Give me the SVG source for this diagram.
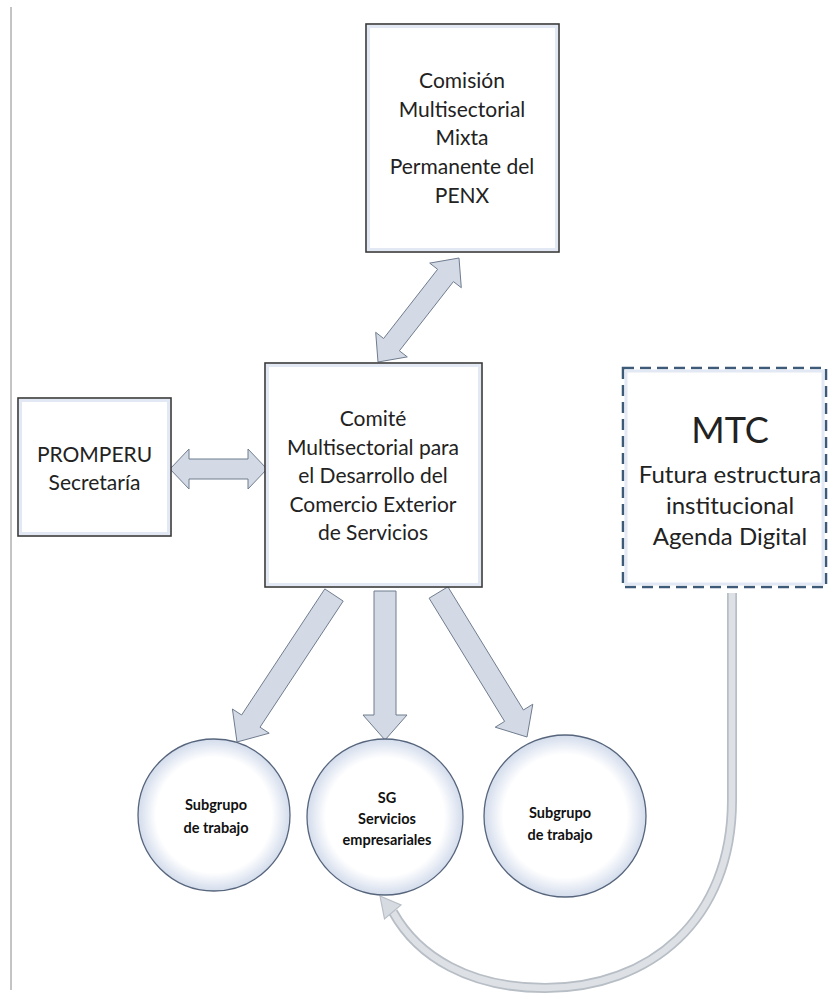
<svg xmlns="http://www.w3.org/2000/svg" width="832" height="1003" viewBox="0 0 832 1003">
<defs>
<radialGradient id="cg" cx="50%" cy="50%" r="50%">
<stop offset="0.76" stop-color="#ffffff"/>
<stop offset="1" stop-color="#d3dcec"/>
</radialGradient>
<style>
.box{fill:#ffffff;stroke:#3a3a3a;stroke-width:1.6}
.glow{fill:none;stroke:#e2e9f4;stroke-width:3}
.circ{fill:url(#cg);stroke:#56657c;stroke-width:1.3}
.arr{fill:#d3dae5;stroke:#6f7c8f;stroke-width:1}
.t{font-family:Lato,"Open Sans",sans-serif;font-size:21px;fill:#222;text-anchor:middle}
.m{font-family:Lato,"Open Sans",sans-serif;font-size:24px;fill:#222;text-anchor:middle}
.c{font-family:Lato,"Open Sans",sans-serif;font-size:14.5px;font-weight:bold;fill:#111;text-anchor:middle}
</style>
</defs>
<rect width="832" height="1003" fill="#ffffff"/>
<line x1="11" y1="7" x2="11" y2="990" stroke="#b0b0b0" stroke-width="1.5"/>

<g id="connectors">
<polygon class="arr" points="459,258 461.3,287.7 453.4,281.6 399.4,350.8 407.3,356.9 378,362 375.7,332.3 383.6,338.5 437.6,269.3 429.7,263.1"/>
<polygon class="arr" points="170,469 189,449 189,459 248,459 248,449 267,469 248,489 248,479 189,479 189,489"/>
<polygon class="arr" points="343.2,601.1 260,727.2 269.2,733.2 237,742 232.4,709 241.6,715 324.8,588.9"/>
<polygon class="arr" points="374,591 396,591 396,715 407,715 385,740 363,715 374,715"/>
<polygon class="arr" points="429.1,598.2 504.6,721.4 495.2,727.2 527,737 532.8,704.2 523.4,710 447.9,586.8"/>
<path d="M732,593 L732,800 C732,920 650,988 545,988 C470,988 418,957 393,912" fill="none" stroke="#b8bec6" stroke-width="10"/>
<path d="M732,593 L732,800 C732,920 650,988 545,988 C470,988 418,957 393,912" fill="none" stroke="#dde1e6" stroke-width="6.5"/>
<polygon points="380,896 401,905 384.5,919" fill="#d6dbe1" stroke="#b8bec6" stroke-width="1.2"/>
</g>

<g id="comision">
<rect class="box" x="366" y="24" width="193" height="228"/>
<rect class="glow" x="368.5" y="26.5" width="188" height="223"/>
<text class="t" x="462" y="88">Comisión</text>
<text class="t" x="462" y="117">Multisectorial</text>
<text class="t" x="462" y="145">Mixta</text>
<text class="t" x="462" y="174">Permanente del</text>
<text class="t" x="462" y="203">PENX</text>
</g>

<g id="promperu">
<rect class="box" x="18" y="398" width="153" height="138"/>
<rect class="glow" x="20.5" y="400.5" width="148" height="133"/>
<text class="t" x="94.5" y="462">PROMPERU</text>
<text class="t" x="94.5" y="490">Secretaría</text>
</g>

<g id="comite">
<rect class="box" x="265" y="363" width="217" height="224"/>
<rect class="glow" x="267.5" y="365.5" width="212" height="219"/>
<text class="t" x="373" y="426">Comité</text>
<text class="t" x="373" y="454.5">Multisectorial para</text>
<text class="t" x="373" y="483">el Desarrollo del</text>
<text class="t" x="373" y="511.5">Comercio Exterior</text>
<text class="t" x="373" y="540">de Servicios</text>
</g>

<g id="mtc">
<rect x="623" y="368" width="203" height="219" fill="#ffffff" stroke="#3d5a78" stroke-width="2.5" stroke-dasharray="11,6"/>
<rect class="glow" x="626" y="371" width="197" height="213"/>
<text class="m" x="730" y="443" style="font-size:36px">MTC</text>
<text class="m" x="730" y="483">Futura estructura</text>
<text class="m" x="730" y="514">institucional</text>
<text class="m" x="730" y="545">Agenda Digital</text>
</g>

<g id="sub1">
<circle class="circ" cx="214" cy="815" r="76"/>
<text class="c" x="216" y="810">Subgrupo</text>
<text class="c" x="216" y="833">de trabajo</text>
</g>

<g id="sg">
<circle class="circ" cx="385" cy="817" r="78"/>
<text class="c" x="387" y="803">SG</text>
<text class="c" x="387" y="824">Servicios</text>
<text class="c" x="387" y="845">empresariales</text>
</g>

<g id="sub2">
<circle class="circ" cx="565" cy="816" r="81"/>
<text class="c" x="560" y="818">Subgrupo</text>
<text class="c" x="560" y="840">de trabajo</text>
</g>
</svg>
